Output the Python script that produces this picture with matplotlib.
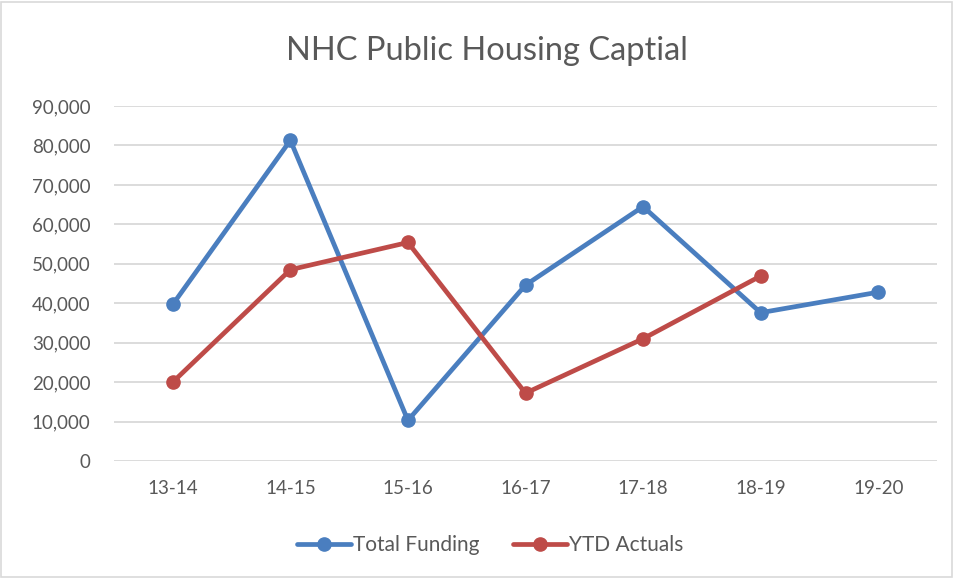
import matplotlib
matplotlib.use("Agg")
import matplotlib.pyplot as plt
from matplotlib.patches import Rectangle
from matplotlib.ticker import FuncFormatter

categories = ["13-14", "14-15", "15-16", "16-17", "17-18", "18-19", "19-20"]
total_funding = [39700, 81300, 10300, 44600, 64500, 37600, 42800]
ytd_actuals = [20000, 48500, 55400, 17200, 31000, 46900]

plt.rcParams['font.family'] = ['Lato', 'DejaVu Sans']

fig = plt.figure(figsize=(9.54, 5.78), dpi=100)
W, H = 954, 578
ax = fig.add_axes([114 / W, 1 - 461 / H, (937 - 114) / W, (461 - 106) / H])

fig.patches.append(Rectangle((1 / W, 1 / H), 1 - 3 / W, 1 - 3 / H, transform=fig.transFigure,
                             fill=False, edgecolor='#d9d9d9', linewidth=1.2))

blue = '#4a7ebf'
red = '#be4b48'
x = list(range(len(categories)))
ax.plot(x, total_funding, color=blue, lw=3.4, marker='o', ms=9.5, label='Total Funding',
        solid_capstyle='round', zorder=3)
ax.plot(x[:len(ytd_actuals)], ytd_actuals, color=red, lw=3.4, marker='o', ms=9.5,
        label='YTD Actuals', solid_capstyle='round', zorder=3)

ax.set_xlim(-0.5, len(categories) - 0.5)
ax.set_ylim(0, 90000)
ax.set_yticks(range(0, 90001, 10000))
ax.yaxis.set_major_formatter(FuncFormatter(lambda v, p: f"{int(v):,}"))
ax.set_xticks(x)
ax.set_xticklabels(categories)
ax.grid(axis='y', color='#d9d9d9', lw=1.3)
ax.set_axisbelow(True)
for s in ax.spines.values():
    s.set_visible(False)
ax.tick_params(axis='both', length=0, labelsize=13.5, colors='#595959')
ax.tick_params(axis='y', pad=17)
ax.tick_params(axis='x', pad=14)

fig.text(487 / W, 1 - 51 / H, "NHC Public Housing Captial", ha='center', va='center',
         fontsize=23.5, color='#595959')

leg = fig.legend(loc='center', bbox_to_anchor=(490 / W, 1 - 545 / H), ncol=2, frameon=False,
                 fontsize=15, handlelength=2.6, columnspacing=1.6, handletextpad=0.1)
for t in leg.get_texts():
    t.set_color('#595959')

fig.savefig("out.png", dpi=100)
